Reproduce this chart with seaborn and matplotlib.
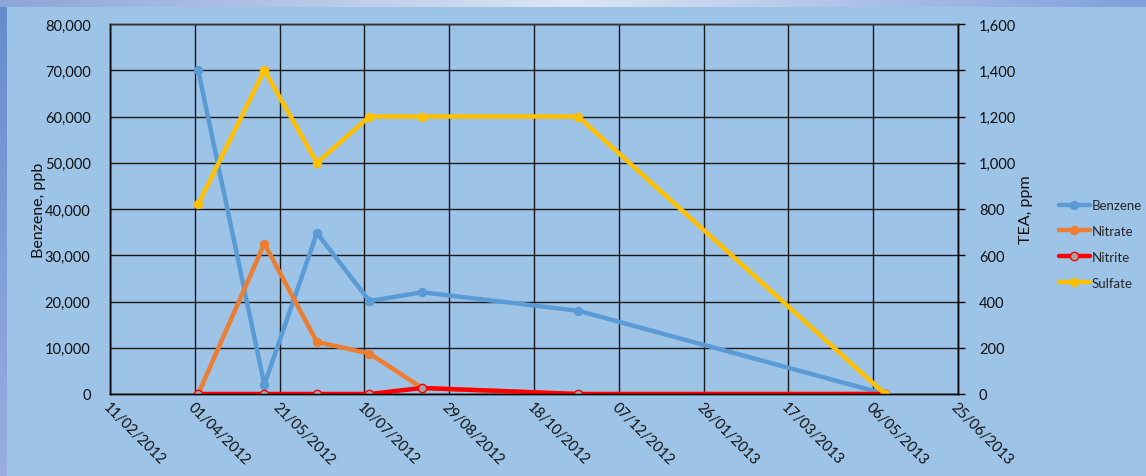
import numpy as np
import pandas as pd
import matplotlib
matplotlib.use("Agg")
import matplotlib.pyplot as plt
import matplotlib.dates as mdates
from matplotlib.ticker import FuncFormatter, MultipleLocator
import seaborn as sns

# sample dates and measured values
dates = pd.to_datetime(["2012-04-03", "2012-05-12", "2012-06-12", "2012-07-13",
                        "2012-08-13", "2012-11-13", "2013-05-13"])
benzene = [70000, 2000, 34800, 20100, 22000, 18000, 0]
nitrate = [0, 650, 225, 175, 26, 0, 0]
nitrite = [0, 0, 0, 0, 26, 0, 0]
sulfate = [820, 1400, 1000, 1200, 1200, 1200, 0]

tick_dates = pd.date_range("2012-02-11", periods=11, freq="50D")

BG = "#9DC3E6"
sns.set_style("white")
plt.rcParams["font.family"] = ["Lato", "DejaVu Sans"]

fig = plt.figure(figsize=(11.46, 4.77), dpi=100, facecolor=BG)

# slide border strips (gradient)
bg_ax = fig.add_axes([0, 0, 1, 1], zorder=-10)
bg_ax.axis("off")
grad = np.linspace(0, 1, 256)
top_cols = np.array([[0.55, 0.65, 0.85], [0.86, 0.90, 0.96], [0.50, 0.62, 0.86]])
xs = np.linspace(0, 1, 3)
top = np.stack([np.interp(grad, xs, top_cols[:, c]) for c in range(3)], axis=-1)[None, :, :]
bg_ax.imshow(top, extent=[0, 1, 1 - 8 / 477, 1], aspect="auto", transform=bg_ax.transAxes)
left = np.stack([np.interp(grad, [0, 1], [0.40, 0.60]),
                 np.interp(grad, [0, 1], [0.55, 0.68]),
                 np.interp(grad, [0, 1], [0.80, 0.88])], axis=-1)[:, None, :]
bg_ax.imshow(left, extent=[0, 7 / 1146, 0, 1 - 8 / 477], aspect="auto", transform=bg_ax.transAxes)
bg_ax.set_xlim(0, 1)
bg_ax.set_ylim(0, 1)

ax = fig.add_axes([110 / 1146, 1 - 395 / 477, 848 / 1146, 370 / 477])
ax.set_facecolor(BG)
ax2 = ax.twinx()

sns.lineplot(x=dates, y=benzene, ax=ax, color="#5B9BD5", lw=3.2, marker="o",
             markersize=6, markeredgecolor="#5B9BD5", label="Benzene", legend=False)
sns.lineplot(x=dates, y=nitrate, ax=ax2, color="#ED7D31", lw=3.2, marker="o",
             markersize=6, markeredgecolor="#ED7D31", label="Nitrate", legend=False)
sns.lineplot(x=dates, y=nitrite, ax=ax2, color="#FF0000", lw=3.2, marker="o",
             markersize=6, markerfacecolor="#A5A5A5", markeredgecolor="#FF0000",
             markeredgewidth=1, label="Nitrite", legend=False)
sns.lineplot(x=dates, y=sulfate, ax=ax2, color="#FFC000", lw=3.2, marker="o",
             markersize=6, markeredgecolor="#FFC000", label="Sulfate", legend=False)

ax.set_xlim(tick_dates[0], tick_dates[-1])
ax.set_ylim(0, 80000)
ax2.set_ylim(0, 1600)
ax.set_xticks(tick_dates)
ax.xaxis.set_major_formatter(mdates.DateFormatter("%d/%m/%Y"))
ax.yaxis.set_major_locator(MultipleLocator(10000))
ax2.yaxis.set_major_locator(MultipleLocator(200))
fmt = FuncFormatter(lambda v, p: f"{v:,.0f}")
ax.yaxis.set_major_formatter(fmt)
ax2.yaxis.set_major_formatter(fmt)

ax.grid(True, color="#1a1a1a", lw=1)
ax.set_axisbelow(True)
for a in (ax, ax2):
    for s in a.spines.values():
        s.set_color("black")
        s.set_linewidth(1)
    a.spines["top"].set_color("#333333")

ax.tick_params(axis="y", length=0, pad=14, labelsize=10.5, colors="#111111")
ax.tick_params(axis="x", length=0, pad=4, labelsize=10.5, colors="#111111")
ax2.tick_params(axis="y", length=5, width=1, pad=10, labelsize=10.5, colors="#111111")
ax2.tick_params(axis="y", color="black")
plt.setp(ax.get_xticklabels(), rotation=-45, ha="left", va="top", rotation_mode="anchor")

ax.set_xlabel("")
ax.set_ylabel("Benzene, ppb", fontsize=11.5, color="#111111", labelpad=-1)
ax2.set_ylabel("TEA, ppm", fontsize=11.5, color="#111111", labelpad=2)

handles = ax.get_lines()[:1] + ax2.get_lines()[:3]
fig.legend(handles, ["Benzene", "Nitrate", "Nitrite", "Sulfate"],
           loc="center left", bbox_to_anchor=(1052 / 1146, 1 - 245 / 477),
           frameon=False, fontsize=9.5, handlelength=2.4, handletextpad=0.1,
           labelspacing=1.05, borderpad=0)

fig.savefig("out.png", dpi=100, facecolor=BG)
